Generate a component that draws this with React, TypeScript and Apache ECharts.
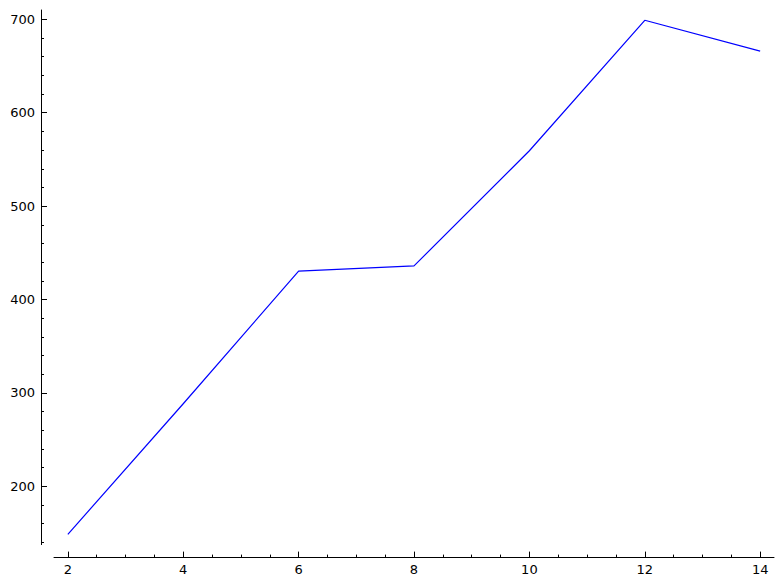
import React, { useEffect, useRef } from "react";
import * as echarts from "echarts";

const xValues = [2, 4, 6, 8, 10, 12, 14];
const yValues = [148.6, 288.4, 430.5, 436.0, 559.3, 699.0, 666.0];
const xTickLabels = [2, 4, 6, 8, 10, 12, 14];
const yTickLabels = [200, 300, 400, 500, 600, 700];
const xMinorStep = 0.5;
const yMinorStep = 20;

export default function App() {
  const ref = useRef<HTMLDivElement>(null);
  useEffect(() => {
    if (!ref.current) return;
    const chart = echarts.init(ref.current, undefined, { renderer: "svg" });
    const xMin = 1.76;
    const xMax = 14.24;
    const yMin = 137.6;
    const yMax = 710.0;
    const xMinor: number[] = [];
    for (let v = Math.ceil(xMin / xMinorStep) * xMinorStep; v <= xMax; v += xMinorStep) {
      if (!xTickLabels.includes(v)) xMinor.push(v);
    }
    const yMinor: number[] = [];
    for (let v = Math.ceil(yMin / yMinorStep) * yMinorStep; v <= yMax; v += yMinorStep) {
      if (!yTickLabels.includes(v)) yMinor.push(v);
    }
    const font = { fontFamily: "DejaVu Sans", fontSize: 13, color: "#000" };
    chart.setOption({
      animation: false,
      grid: { left: 54, right: 9, top: 10, bottom: 39.4 },
      xAxis: [
        {
          type: "value",
          min: xMin,
          max: xMax,
          offset: 13,
          axisLine: { show: true, lineStyle: { color: "#000", width: 1 } },
          axisTick: { show: true, inside: true, length: 6, customValues: xTickLabels, lineStyle: { color: "#000" } },
          axisLabel: { show: true, margin: 5, customValues: xTickLabels, ...font },
          splitLine: { show: false },
        },
        {
          type: "value",
          min: xMin,
          max: xMax,
          offset: 13,
          position: "bottom",
          axisLine: { show: false },
          axisTick: { show: true, inside: true, length: 3, customValues: xMinor, lineStyle: { color: "#000" } },
          axisLabel: { show: false },
          splitLine: { show: false },
        },
      ],
      yAxis: [
        {
          type: "value",
          min: yMin,
          max: yMax,
          offset: 13,
          axisLine: { show: true, lineStyle: { color: "#000", width: 1 } },
          axisTick: { show: true, inside: true, length: 6, customValues: yTickLabels, lineStyle: { color: "#000" } },
          axisLabel: { show: true, margin: 6, customValues: yTickLabels, ...font },
          splitLine: { show: false },
        },
        {
          type: "value",
          min: yMin,
          max: yMax,
          offset: 13,
          position: "left",
          axisLine: { show: false },
          axisTick: { show: true, inside: true, length: 3, customValues: yMinor, lineStyle: { color: "#000" } },
          axisLabel: { show: false },
          splitLine: { show: false },
        },
      ],
      series: [
        {
          type: "line",
          data: xValues.map((x, i) => [x, yValues[i]]),
          showSymbol: false,
          symbol: "none",
          lineStyle: { color: "#0000ff", width: 1.2 },
        },
      ],
    });
    return () => chart.dispose();
  }, []);
  return (
    <div
      ref={ref}
      style={{ position: "absolute", left: 0, top: 0, width: 783, height: 584, background: "#fff" }}
    />
  );
}
